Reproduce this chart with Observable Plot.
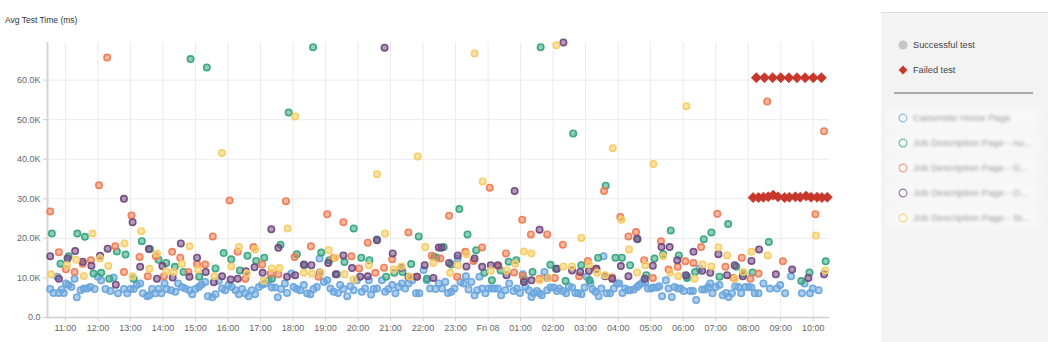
<!DOCTYPE html>
<html>
<head>
<meta charset="utf-8">
<script src="https://cdn.jsdelivr.net/npm/d3@7"></script>
<script src="https://cdn.jsdelivr.net/npm/@observablehq/plot@0.6"></script>
<style>
  html, body { margin: 0; padding: 0; background: #fff; }
  body { font-family: "Liberation Sans", Arial, Helvetica, sans-serif; }
  #wrap { position: relative; width: 1048px; height: 342px; overflow: hidden; }
  #left { position: absolute; left: 0; top: 0; width: 881px; }
  #title { height: 16px; padding-top: 14px; padding-left: 5px; font-size: 8.5px; line-height: 12px; color: #333; }
  #panel { position: absolute; left: 881px; top: 12px; width: 167px; height: 330px; background: #f3f3f3; border-top: 1px solid #dcdcdc; }
  .item { position: absolute; left: 0; height: 14px; width: 167px; font-size: 9.2px; color: #444; }
  .item .sw { position: absolute; left: 17px; top: 2px; width: 10px; height: 10px; }
  .item .lb { position: absolute; left: 32px; top: 0; line-height: 14px; white-space: nowrap; }
  .blur { filter: blur(1.5px); color: #9a9a9a; font-size: 9.6px; }
  .halo { position: absolute; left: 4px; width: 156px; height: 24px; border-radius: 12px; background: rgba(255,255,255,0.4); filter: blur(3px); }
  #sep { position: absolute; left: 13px; top: 79px; width: 139px; height: 2px; background: #a9a9a9; }
</style>
</head>
<body>
<div id="wrap">
  <div id="left">
    <div id="title">Avg Test Time (ms)</div>
    <div id="chart"></div>
  </div>
  <div id="panel"></div>
</div>
<script>
// Times: minutes after Thu 07 00:00 ; values: thousands of ms
const seriesNames = [
  "Careersite Home Page",
  "Job Description Page - Au...",
  "Job Description Page - G...",
  "Job Description Page - O...",
  "Job Description Page - St..."
];
const seriesColors = ["#6aa5dc", "#36a47f", "#ef7b53", "#71497f", "#f6cc63"];

const careersite = [[632,7.2],[638,6.2],[645,10.3],[648,6.2],[653,7.1],[657,6.2],[661,8.6],[666,8.2],[671,7.7],[677,9.8],[681,5.1],[688,6.9],[694,7.3],[700,7.3],[706,7.7],[714,7.2],[720,10.3],[726,9.4],[734,7.2],[743,6.7],[749,10.1],[757,6.1],[768,7.2],[774,6.1],[780,7.2],[786,7.2],[792,8.2],[798,8.6],[803,6.1],[811,5.4],[815,5.6],[820,7.2],[826,6.1],[832,7.2],[837,6.1],[843,8.6],[847,7.2],[855,6.9],[863,6.5],[868,8.6],[875,7.7],[881,7.3],[889,6.9],[894,5.9],[900,7.2],[906,7.7],[911,8.3],[918,9.0],[923,5.4],[931,5.1],[937,5.9],[943,9.3],[949,7.3],[955,6.9],[961,8.2],[967,7.7],[974,6.9],[980,5.9],[986,7.2],[992,6.1],[998,5.4],[1004,6.9],[1010,5.9],[1017,7.7],[1023,8.3],[1029,8.6],[1035,9.4],[1041,7.6],[1047,7.6],[1052,5.1],[1058,7.2],[1065,8.6],[1069,6.2],[1077,11.1],[1081,7.7],[1087,7.2],[1093,6.9],[1100,8.2],[1106,6.1],[1112,5.9],[1118,7.2],[1124,7.7],[1129,14.9],[1137,9.0],[1143,9.4],[1149,7.3],[1155,6.5],[1163,6.2],[1167,8.2],[1173,7.2],[1180,5.4],[1186,7.9],[1192,6.9],[1198,9.4],[1207,6.5],[1213,7.3],[1220,9.4],[1224,5.8],[1229,7.2],[1235,7.3],[1244,9.4],[1250,6.5],[1256,7.2],[1263,8.2],[1269,6.1],[1275,7.7],[1281,8.6],[1287,7.3],[1293,8.6],[1300,9.4],[1307,6.1],[1313,6.1],[1321,12.0],[1327,9.4],[1333,7.3],[1343,7.2],[1349,8.6],[1355,7.3],[1361,9.0],[1366,6.2],[1372,6.5],[1378,7.3],[1384,14.9],[1389,9.0],[1395,8.6],[1399,10.4],[1404,7.1],[1409,9.0],[1415,5.6],[1420,6.9],[1424,10.3],[1429,7.3],[1435,6.1],[1441,7.3],[1447,7.3],[1452,7.3],[1458,7.3],[1464,5.6],[1472,6.9],[1479,8.6],[1487,6.7],[1493,7.3],[1499,6.2],[1504,10.9],[1509,7.7],[1515,6.9],[1520,5.2],[1524,6.2],[1530,6.7],[1535,6.1],[1539,5.6],[1544,11.5],[1549,6.9],[1555,7.6],[1561,7.6],[1567,6.7],[1571,7.3],[1578,6.7],[1584,6.1],[1589,7.9],[1595,7.6],[1601,6.2],[1606,6.2],[1612,5.9],[1618,7.6],[1622,10.3],[1629,8.7],[1633,7.1],[1638,6.5],[1644,5.4],[1649,7.3],[1653,15.5],[1659,6.1],[1665,6.1],[1672,7.3],[1678,8.6],[1682,8.6],[1688,6.2],[1693,7.3],[1698,6.9],[1702,6.9],[1709,7.1],[1715,7.7],[1719,8.2],[1724,8.7],[1730,9.0],[1735,7.3],[1741,7.3],[1745,7.6],[1752,7.6],[1756,7.9],[1761,5.4],[1768,9.4],[1773,7.3],[1779,5.2],[1784,7.7],[1790,7.3],[1795,7.3],[1801,6.7],[1807,10.4],[1813,6.7],[1818,6.7],[1824,4.4],[1830,12.4],[1835,7.1],[1840,7.1],[1846,7.7],[1850,8.6],[1854,6.1],[1860,7.7],[1867,8.2],[1873,5.6],[1879,6.2],[1884,5.2],[1890,6.1],[1896,7.9],[1902,7.7],[1907,6.1],[1915,7.7],[1921,7.7],[1926,7.6],[1932,6.1],[1939,6.1],[1948,8.6],[1960,7.3],[1973,7.3],[1979,8.2],[1988,6.1],[1999,10.4],[2019,6.1],[2024,8.6],[2034,6.1],[2039,7.3],[2050,6.9]];

const jobAu = [[635,21.2],[651,13.6],[666,15.5],[682,21.2],[696,20.4],[712,11.1],[726,11.3],[741,9.8],[755,16.7],[771,15.9],[786,9.8],[801,19.3],[816,17.3],[832,14.6],[846,13.8],[862,12.8],[878,11.5],[891,65.3],[907,10.3],[921,63.2],[937,12.4],[952,16.3],[966,14.7],[982,11.9],[996,15.6],[1012,14.3],[1027,15.1],[1041,9.8],[1057,18.4],[1072,51.8],[1087,16.0],[1101,13.2],[1117,68.3],[1132,16.4],[1147,14.5],[1161,10.9],[1175,14.0],[1192,22.5],[1206,15.1],[1221,14.5],[1235,19.7],[1252,10.3],[1267,11.3],[1282,11.5],[1298,13.5],[1312,20.5],[1327,9.8],[1341,15.3],[1345,15.1],[1358,17.8],[1372,13.4],[1387,27.4],[1402,21.0],[1418,17.0],[1433,11.3],[1447,9.4],[1463,11.9],[1478,14.1],[1492,14.5],[1507,9.6],[1522,11.5],[1537,68.3],[1555,13.3],[1565,12.3],[1583,9.2],[1597,46.5],[1612,13.2],[1627,9.4],[1643,15.1],[1657,33.3],[1675,15.1],[1687,15.1],[1702,13.2],[1716,19.8],[1732,10.7],[1747,14.9],[1763,16.0],[1777,22.0],[1792,15.7],[1807,10.0],[1822,11.5],[1838,19.8],[1852,21.5],[1867,10.3],[1883,23.6],[1898,12.8],[1911,11.1],[1928,11.4],[1958,19.1],[2018,9.2],[2033,11.4],[2063,14.2]];

const jobG = [[632,26.8],[648,16.5],[661,12.2],[677,11.5],[692,13.6],[707,14.5],[722,33.4],[737,65.7],[752,18.0],[768,11.5],[782,25.8],[797,15.3],[812,10.4],[827,15.5],[842,10.4],[857,16.6],[872,15.1],[887,11.5],[903,13.5],[918,13.4],[932,20.5],[963,29.6],[978,16.6],[992,9.8],[1007,17.8],[1023,13.4],[1039,11.1],[1053,10.9],[1067,29.4],[1083,15.3],[1113,18.0],[1127,10.3],[1143,26.1],[1155,15.1],[1173,24.1],[1188,15.5],[1202,12.4],[1218,18.9],[1232,11.3],[1248,12.6],[1263,14.7],[1293,21.5],[1307,10.3],[1336,15.6],[1352,14.9],[1368,25.7],[1383,10.3],[1398,16.6],[1413,14.3],[1429,17.7],[1443,32.8],[1459,13.0],[1473,16.2],[1488,11.4],[1503,24.7],[1504,10.5],[1519,21.0],[1535,9.8],[1549,21.0],[1563,10.0],[1578,18.4],[1608,10.4],[1624,14.3],[1639,12.3],[1654,32.0],[1669,10.1],[1684,25.4],[1699,20.5],[1713,21.6],[1728,14.5],[1744,10.0],[1759,19.3],[1773,12.1],[1790,12.8],[1804,14.2],[1819,13.8],[1833,17.8],[1863,26.2],[1878,12.8],[1893,10.0],[1908,15.1],[1924,9.8],[1939,11.1],[1955,54.6],[1984,14.2],[2044,26.1],[2060,47.1]];

const jobO = [[632,15.5],[648,9.8],[664,14.9],[678,16.8],[692,14.1],[708,13.1],[724,15.6],[738,17.4],[753,8.3],[768,30.0],[784,24.1],[798,12.8],[814,17.3],[829,9.8],[839,13.0],[858,10.1],[873,18.7],[889,10.3],[903,15.1],[919,11.5],[934,8.9],[949,10.4],[965,9.6],[978,9.8],[993,11.7],[1009,12.7],[1024,11.3],[1040,22.3],[1053,17.6],[1069,10.3],[1084,10.7],[1100,13.4],[1114,13.2],[1130,11.4],[1145,13.8],[1159,10.9],[1173,15.7],[1189,12.5],[1204,10.3],[1218,10.4],[1235,19.5],[1249,68.2],[1264,16.2],[1280,12.6],[1293,10.3],[1309,10.3],[1323,13.2],[1339,10.0],[1349,17.7],[1354,17.6],[1368,13.8],[1384,15.7],[1400,12.9],[1415,14.9],[1429,12.8],[1445,13.2],[1458,13.2],[1474,10.7],[1489,32.0],[1506,9.0],[1520,9.4],[1535,22.2],[1550,10.0],[1567,12.3],[1579,69.5],[1595,11.9],[1610,11.5],[1626,11.8],[1640,12.3],[1656,10.4],[1669,9.8],[1685,13.0],[1699,10.4],[1715,19.9],[1729,9.8],[1744,13.1],[1760,17.8],[1775,17.8],[1789,14.5],[1805,10.7],[1819,16.6],[1835,11.8],[1850,11.3],[1865,16.0],[1881,10.7],[1895,13.2],[1910,10.4],[1926,14.3],[1940,17.2],[1971,10.9],[2001,12.1],[2031,10.0],[2060,10.9]];

const jobSt = [[634,10.9],[663,13.2],[680,14.6],[694,10.5],[710,21.2],[724,14.9],[739,13.0],[769,18.7],[784,10.4],[800,21.8],[815,12.3],[829,16.2],[846,11.7],[860,11.5],[875,13.6],[889,18.0],[905,12.1],[935,10.4],[949,41.6],[966,12.9],[980,17.8],[995,11.1],[1010,17.2],[1026,9.3],[1041,12.4],[1055,12.5],[1070,22.5],[1084,50.8],[1100,11.3],[1115,11.1],[1131,11.3],[1146,17.0],[1158,15.1],[1175,10.9],[1192,9.6],[1220,13.2],[1235,36.2],[1250,21.2],[1266,12.1],[1280,12.9],[1295,10.3],[1310,40.7],[1324,17.8],[1339,13.8],[1370,11.3],[1384,13.2],[1400,16.0],[1415,66.7],[1430,34.4],[1445,11.8],[1474,11.9],[1490,13.6],[1506,16.7],[1520,16.2],[1535,9.4],[1551,10.0],[1566,68.8],[1579,12.9],[1595,12.9],[1612,20.1],[1626,13.4],[1641,11.3],[1656,10.7],[1670,42.8],[1686,24.7],[1700,17.2],[1715,11.4],[1730,13.2],[1745,38.8],[1763,15.5],[1776,11.3],[1791,10.4],[1806,53.4],[1821,9.8],[1836,13.4],[1852,12.9],[1865,17.7],[1881,15.7],[1895,9.8],[1911,11.5],[1926,16.6],[1956,15.7],[2045,20.7],[2062,11.9]];

const failedTimes  = [1935,1950,1965,1980,1995,2010,2025,2040,2055, 1929,1939,1948,1957,1966,1975,1987,1996,2007,2016,2027,2036,2047,2056,2066];
const failedValues = [60.6,60.6,60.6,60.6,60.6,60.6,60.6,60.6,60.6, 30.3,30.3,30.4,30.5,30.9,30.5,30.3,30.4,30.5,30.4,30.7,30.4,30.4,30.3,30.4];

const xDomainMinutes = [627, 2070];
const yTicks = [0, 10000, 20000, 30000, 40000, 50000, 60000];

const base = Date.UTC(2019, 2, 7);
const toDate = m => new Date(base + m * 60000);

const seriesData = [careersite, jobAu, jobG, jobO, jobSt];
const rows = seriesData.flatMap((arr, i) => arr.map(([m, v]) => ({time: toDate(m), value: v * 1000, name: seriesNames[i]})));
const failed = failedTimes.map((m, i) => ({time: toDate(m), value: failedValues[i] * 1000}));

const xDomain = xDomainMinutes.map(toDate);
const hourTicks = d3.utcHour.range(xDomain[0], xDomain[1]);
const xFmt = d => d.getUTCHours() === 0 ? d3.utcFormat("%a %d")(d) : d3.utcFormat("%H:%M")(d);
const yFmt = d => d === 0 ? "0.0" : (d / 1000).toFixed(1) + "K";

const chart = Plot.plot({
  width: 881,
  height: 312,
  marginTop: 12,
  marginBottom: 25,
  marginLeft: 47,
  marginRight: 52,
  style: {fontFamily: '"Liberation Sans", Arial, Helvetica, sans-serif', fontSize: "9px", background: "transparent", overflow: "visible"},
  x: {type: "utc", domain: xDomain},
  y: {domain: [0, 69500]},
  color: {domain: seriesNames, range: seriesColors},
  marks: [
    Plot.gridX(hourTicks, {stroke: "#ebebeb", strokeOpacity: 1}),
    Plot.gridY(yTicks.slice(1), {stroke: "#ebebeb", strokeOpacity: 1}),
    Plot.axisX(hourTicks, {tickFormat: xFmt, tickSize: 4, tickPadding: 3, stroke: "#cfcfcf", fill: "#666", label: null}),
    Plot.axisY(yTicks, {tickFormat: yFmt, tickSize: 4, tickPadding: 3, stroke: "#cfcfcf", fill: "#666", label: null}),
    Plot.ruleY([0], {stroke: "#cfcfcf", strokeWidth: 1.5}),
    Plot.ruleX([xDomain[0]], {stroke: "#d5d5d5", strokeWidth: 2}),
    Plot.dot(rows, {x: "time", y: "value", r: 3.2, fill: "name", stroke: "name", fillOpacity: 0.55, strokeOpacity: 0.95, strokeWidth: 1.6}),
    Plot.dot(failed, {x: "time", y: "value", symbol: "diamond2", r: 4.5, fill: "#c8372b", stroke: "#c8372b", strokeWidth: 0.8})
  ]
});
document.getElementById("chart").appendChild(chart);

// Legend panel
const panel = document.getElementById("panel");
function addItem(top, swatchSvg, label, blurred) {
  if (blurred) {
    const h = document.createElement("div");
    h.className = "halo";
    h.style.top = (top - 5) + "px";
    panel.appendChild(h);
  }
  const it = document.createElement("div");
  it.className = "item";
  it.style.top = top + "px";
  it.innerHTML = `<svg class="sw" viewBox="0 0 10 10">${swatchSvg}</svg><span class="lb${blurred ? " blur" : ""}">${label}</span>`;
  panel.appendChild(it);
}
addItem(25, `<circle cx="5" cy="5" r="4.6" fill="#c6c6c6"/>`, "Successful test", false);
addItem(50, `<path d="M5 0.6 L9.4 5 L5 9.4 L0.6 5 Z" fill="#c8372b"/>`, "Failed test", false);
const sep = document.createElement("div"); sep.id = "sep"; panel.appendChild(sep);
seriesNames.forEach((n, i) => {
  addItem(98 + i * 25, `<circle cx="5" cy="5" r="3.9" fill="#f8f8f8" stroke="${seriesColors[i]}" stroke-opacity="0.7" stroke-width="1.2"/>`, n, true);
});
</script>
</body>
</html>
